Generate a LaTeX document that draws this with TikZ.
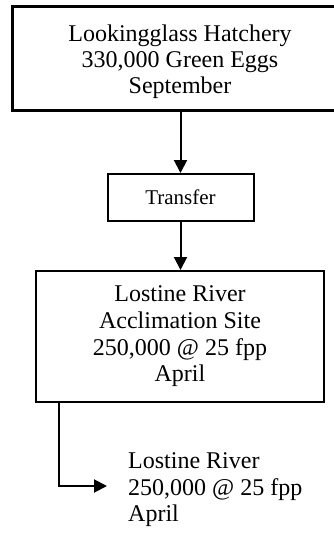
\documentclass[tikz,border=0pt]{standalone}
\usepackage{fontspec}
\setmainfont{Liberation Serif}
\usetikzlibrary{arrows.meta}
\begin{document}
\begin{tikzpicture}[x=1pt,y=-1pt,
  every node/.style={font=\fontsize{24}{26.6}\selectfont},
  boxnode/.style={draw,line width=2pt,align=center,inner sep=0pt},
  conn/.style={line width=2pt,-{Triangle[length=13pt,width=13pt]}}]
\useasboundingbox (0,0) rectangle (334,535);
\begin{scope}
\clip (0,0) rectangle (334,535);
\node[boxnode,line width=3pt,minimum width=336pt,minimum height=103pt,
  font=\fontsize{24}{26}\selectfont] (top) at (180,58.5)
  {\rule{0pt}{22.4pt}Lookingglass Hatchery\\330,000 Green Eggs\\September};
\end{scope}
\node[boxnode,font=\fontsize{21}{24}\selectfont,minimum width=146pt,minimum height=47pt] (tr) at (180.5,197.5) {Transfer};
\node[boxnode,minimum width=288pt,minimum height=131pt] (site) at (180,336.5)
  {Lostine River\\Acclimation Site\\250,000 @ 25 fpp\\April};
\node[align=left,anchor=west,inner xsep=0pt] (out) at (128,490)
  {Lostine River\\250,000 @ 25 fpp\\April};
\coordinate (tip) at (107,486);
\draw[conn] (top.south -| tr.north) -- (tr.north);
\draw[conn] (tr.south) -- (tr.south |- site.north);
\draw[conn] ([xshift=24pt]site.south west) |- (tip);
\end{tikzpicture}
\end{document}
